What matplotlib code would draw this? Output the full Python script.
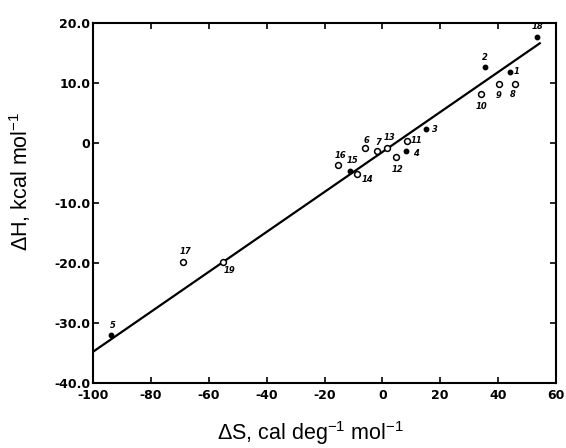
import numpy as np
import matplotlib
matplotlib.use('Agg')
import matplotlib.pyplot as plt

plt.rcParams['axes.unicode_minus'] = False

# delta S (cal/deg/mol) and delta H (kcal/mol)
labels = ['1', '2', '3', '4', '5', '6', '7', '8', '9', '10',
          '11', '12', '13', '14', '15', '16', '17', '18', '19']
dS = [44.0, 35.3, 15.2, 8.1, -93.7, -5.9, -1.9, 45.7, 40.3, 34.2,
      8.5, 4.8, 1.6, -8.6, -11.3, -15.5, -68.9, 53.6, -55.1]
dH = [11.9, 12.7, 2.3, -1.3, -32.0, -0.9, -1.3, 9.9, 9.8, 8.1,
      0.4, -2.3, -0.9, -5.2, -4.6, -3.7, -19.9, 17.6, -19.9]
filled = [True, True, True, True, True, False, False, False, False, False,
          False, False, False, False, True, False, False, True, False]

# fitted line
fit_slope = 0.333
fit_icpt = -1.5
fit_range = [-100, 54.4]

# label offsets (points), not data
offs = {'1': (5, 0), '2': (0, 7), '3': (6, 0), '4': (7, -2), '5': (1, 7),
        '6': (1, 6), '7': (1, 6), '8': (-1, -8), '9': (0, -8), '10': (0, -9),
        '11': (7, 0), '12': (1, -9), '13': (2, 8), '14': (7, -4), '15': (2, 7),
        '16': (2, 7), '17': (2, 8), '18': (0, 8), '19': (5, -6)}

fig = plt.figure(figsize=(5.66, 4.48), dpi=100)
ax = fig.add_axes([93/566, 1-383/448, 463/566, 360/448])

xf = np.array(fit_range)
ax.plot(xf, fit_slope*xf + fit_icpt, color='black', lw=1.6, zorder=2)

for lab, x, y, f in zip(labels, dS, dH, filled):
    if f:
        ax.plot(x, y, 'o', ms=3.2, color='black', zorder=3)
    else:
        ax.plot(x, y, 'o', ms=4.2, mfc='white', mec='black', mew=1.1, zorder=3)
    dx, dy = offs[lab]
    ax.annotate(lab, (x, y), xytext=(dx, dy), textcoords='offset points',
                ha='center', va='center', fontsize=6, fontweight='bold',
                fontstyle='italic')

ax.set_xlim(-100, 60)
ax.set_ylim(-40, 20)
ax.set_xticks(np.arange(-100, 61, 20))
ax.set_yticks(np.arange(-40, 21, 10))
ax.set_yticklabels(['-40.0', '-30.0', '-20.0', '-10.0', '0', '10.0', '20.0'])
ax.tick_params(direction='in', top=True, right=True, length=4, width=1.2,
               labelsize=9, pad=2)
ax.tick_params(axis='x', pad=4)
for t in ax.get_xticklabels() + ax.get_yticklabels():
    t.set_fontweight('bold')
for s in ax.spines.values():
    s.set_linewidth(1.5)

ax.set_xlabel(r'ΔS, cal deg$^{\mathregular{-1}}$ mol$^{\mathregular{-1}}$',
              fontsize=15.5, family='Liberation Sans')
ax.set_ylabel(r'ΔH, kcal mol$^{\mathregular{-1}}$',
              fontsize=15.5, family='Liberation Sans')
ax.xaxis.set_label_coords(0.469, -0.1)
ax.yaxis.set_label_coords(-0.13, 0.56)

fig.savefig('out.png', dpi=100)
